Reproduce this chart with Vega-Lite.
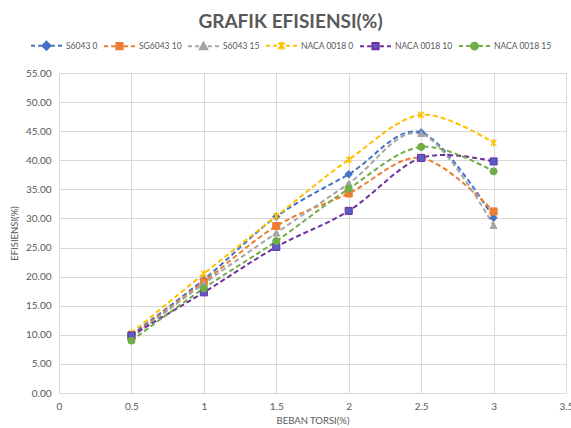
{
  "$schema": "https://vega.github.io/schema/vega-lite/v6.json",
  "width": 507,
  "height": 320,
  "autosize": {"type": "none"},
  "padding": {"left": 59, "top": 73, "right": 5, "bottom": 35},
  "background": "white",
  "title": {
    "text": "GRAFIK EFISIENSI(%)",
    "fontSize": 19,
    "fontWeight": "bold",
    "font": "Lato",
    "color": "#595959",
    "anchor": "middle",
    "frame": "group",
    "dx": -22,
    "offset": -3
  },
  "data": {
    "values": [
      {"series": "S6043 0", "x": 0.5, "y": 10.0},
      {"series": "S6043 0", "x": 1, "y": 19.5},
      {"series": "S6043 0", "x": 1.5, "y": 30.3},
      {"series": "S6043 0", "x": 2, "y": 37.6},
      {"series": "S6043 0", "x": 2.5, "y": 44.8},
      {"series": "S6043 0", "x": 3, "y": 30.1},
      {"series": "SG6043 10", "x": 0.5, "y": 9.7},
      {"series": "SG6043 10", "x": 1, "y": 19.1},
      {"series": "SG6043 10", "x": 1.5, "y": 28.7},
      {"series": "SG6043 10", "x": 2, "y": 34.3},
      {"series": "SG6043 10", "x": 2.5, "y": 40.4},
      {"series": "SG6043 10", "x": 3, "y": 31.2},
      {"series": "S6043 15", "x": 0.5, "y": 9.5},
      {"series": "S6043 15", "x": 1, "y": 18.8},
      {"series": "S6043 15", "x": 1.5, "y": 27.5},
      {"series": "S6043 15", "x": 2, "y": 36.0},
      {"series": "S6043 15", "x": 2.5, "y": 44.6},
      {"series": "S6043 15", "x": 3, "y": 28.8},
      {"series": "NACA 0018 0", "x": 0.5, "y": 10.3},
      {"series": "NACA 0018 0", "x": 1, "y": 20.5},
      {"series": "NACA 0018 0", "x": 1.5, "y": 30.4},
      {"series": "NACA 0018 0", "x": 2, "y": 40.1},
      {"series": "NACA 0018 0", "x": 2.5, "y": 47.8},
      {"series": "NACA 0018 0", "x": 3, "y": 43.0},
      {"series": "NACA 0018 10", "x": 0.5, "y": 9.9},
      {"series": "NACA 0018 10", "x": 1, "y": 17.3},
      {"series": "NACA 0018 10", "x": 1.5, "y": 25.1},
      {"series": "NACA 0018 10", "x": 2, "y": 31.3},
      {"series": "NACA 0018 10", "x": 2.5, "y": 40.4},
      {"series": "NACA 0018 10", "x": 3, "y": 39.8},
      {"series": "NACA 0018 15", "x": 0.5, "y": 9.0},
      {"series": "NACA 0018 15", "x": 1, "y": 18.0},
      {"series": "NACA 0018 15", "x": 1.5, "y": 26.1},
      {"series": "NACA 0018 15", "x": 2, "y": 35.1},
      {"series": "NACA 0018 15", "x": 2.5, "y": 42.3},
      {"series": "NACA 0018 15", "x": 3, "y": 38.1}
    ]
  },
  "encoding": {
    "x": {
      "field": "x",
      "type": "quantitative",
      "scale": {"domain": [0, 3.5], "nice": false, "zero": false},
      "axis": {
        "values": [0, 0.5, 1, 1.5, 2, 2.5, 3, 3.5],
        "format": "~g",
        "title": "BEBAN TORSI(%)",
        "titleFontSize": 9.5,
        "titleFontWeight": "normal",
        "titleColor": "#595959",
        "titlePadding": 4,
        "labelFontSize": 10,
        "labelColor": "#595959",
        "labelPadding": 8,
        "labelFlush": false,
        "labelOverlap": false,
        "ticks": false,
        "domain": false,
        "grid": true,
        "gridColor": "#D9D9D9"
      }
    },
    "y": {
      "field": "y",
      "type": "quantitative",
      "scale": {"domain": [0, 55], "nice": false},
      "axis": {
        "values": [0, 5, 10, 15, 20, 25, 30, 35, 40, 45, 50, 55],
        "format": ".2f",
        "title": "EFISIENSI(%)",
        "titleFontSize": 9.5,
        "titleFontWeight": "normal",
        "titleColor": "#595959",
        "titlePadding": 6,
        "labelFontSize": 10,
        "labelColor": "#595959",
        "labelPadding": 8,
        "labelFlush": false,
        "labelOverlap": false,
        "ticks": false,
        "domain": false,
        "grid": true,
        "gridColor": "#D9D9D9"
      }
    },
    "fill": {
      "field": "series",
      "type": "nominal",
      "scale": {
        "domain": ["S6043 0", "SG6043 10", "S6043 15", "NACA 0018 0", "NACA 0018 10", "NACA 0018 15"],
        "range": ["#4472C4", "#ED7D31", "#A5A5A5", "#FFC000", "#5B5BC8", "#70AD47"]
      },
      "legend": null
    },
    "stroke": {
      "field": "series",
      "type": "nominal",
      "scale": {
        "domain": ["S6043 0", "SG6043 10", "S6043 15", "NACA 0018 0", "NACA 0018 10", "NACA 0018 15"],
        "range": ["#4472C4", "#ED7D31", "#A5A5A5", "#FFC000", "#7030A0", "#70AD47"]
      },
      "legend": {
        "orient": "none",
        "legendX": -29,
        "legendY": -44,
        "direction": "horizontal",
        "columns": 6,
        "title": null,
        "symbolSize": 961,
        "symbolStrokeWidth": 2,
        "symbolOpacity": 1,
        "labelOffset": 3,
        "columnPadding": 2,
        "labelFontSize": 8.5,
        "labelColor": "#595959",
        "labelFont": "Lato",
        "encoding": {
          "symbols": {
            "shape": {"value": {"expr": "datum.value === 'S6043 0' ? 'M-1,0H-0.74M-0.54,0H-0.28M0.28,0H0.54M0.74,0H1M0,-0.26L0.26,0L0,0.26L-0.26,0Z' : datum.value === 'SG6043 10' ? 'M-1,0H-0.74M-0.54,0H-0.28M0.28,0H0.54M0.74,0H1M-0.2,-0.2H0.2V0.2H-0.2Z' : datum.value === 'S6043 15' ? 'M-1,0H-0.74M-0.54,0H-0.28M0.28,0H0.54M0.74,0H1M0,-0.24L0.24,0.2H-0.24Z' : datum.value === 'NACA 0018 0' ? 'M-1,0H-0.74M-0.54,0H-0.28M0.28,0H0.54M0.74,0H1M-0.2,-0.2L0.2,0.2M-0.2,0.2L0.2,-0.2M0,-0.26V0.26' : datum.value === 'NACA 0018 10' ? 'M-1,0H-0.74M-0.54,0H-0.28M0.28,0H0.54M0.74,0H1M-0.2,-0.2H0.2V0.2H-0.2Z' : 'M-1,0H-0.74M-0.54,0H-0.28M0.28,0H0.54M0.74,0H1M0.22,0A0.22,0.22 0 1,1 -0.22,0A0.22,0.22 0 1,1 0.22,0Z'"}},
            "strokeWidth": {"value": 2},
            "strokeDash": {"value": [1, 0]},
            "opacity": {"value": 1}
          }
        }
      }
    }
  },
  "layer": [
    {
      "mark": {"type": "line", "interpolate": "cardinal", "tension": 0, "strokeWidth": 2, "strokeDash": [5, 3]},
      "encoding": {"fill": {"value": null}}
    },
    {
      "transform": [{"filter": "datum.series === 'S6043 0'"}],
      "mark": {"type": "point", "filled": true, "size": 55, "strokeWidth": 1, "opacity": 1, "shape": "diamond"}
    },
    {
      "transform": [{"filter": "datum.series === 'SG6043 10'"}],
      "mark": {"type": "point", "filled": true, "size": 50, "strokeWidth": 1, "opacity": 1, "shape": "square"}
    },
    {
      "transform": [{"filter": "datum.series === 'S6043 15'"}],
      "mark": {"type": "point", "filled": true, "size": 50, "strokeWidth": 1, "opacity": 1, "shape": "triangle-up"}
    },
    {
      "transform": [{"filter": "datum.series === 'NACA 0018 0'"}],
      "mark": {"type": "point", "filled": true, "size": 50, "strokeWidth": 1.3, "opacity": 1, "shape": "M-0.8,-0.8L0.8,0.8M-0.8,0.8L0.8,-0.8M0,-1.1V1.1"}
    },
    {
      "transform": [{"filter": "datum.series === 'NACA 0018 10'"}],
      "mark": {"type": "point", "filled": true, "size": 50, "strokeWidth": 1, "opacity": 1, "shape": "square"}
    },
    {
      "transform": [{"filter": "datum.series === 'NACA 0018 15'"}],
      "mark": {"type": "point", "filled": true, "size": 50, "strokeWidth": 1, "opacity": 1, "shape": "circle"}
    }
  ],
  "config": {
    "font": "Lato",
    "view": {"stroke": null}
  }
}
